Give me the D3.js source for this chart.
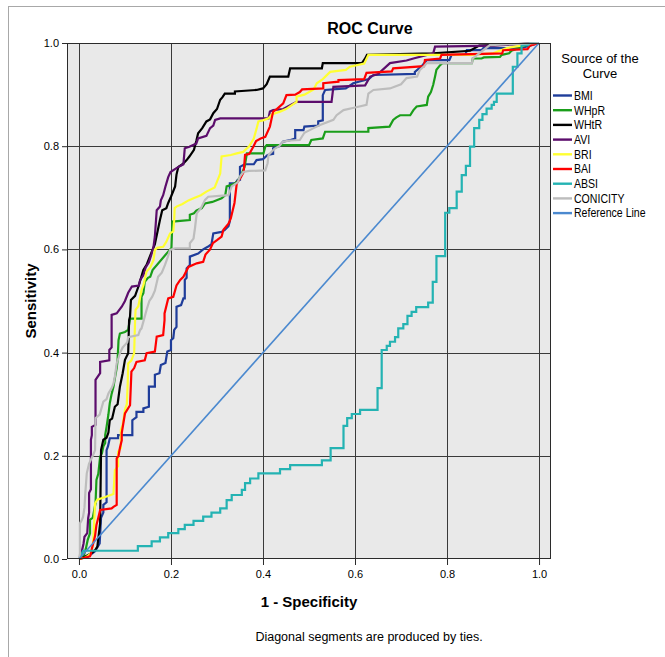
<!DOCTYPE html>
<html>
<head>
<meta charset="utf-8">
<script src="https://cdn.jsdelivr.net/npm/d3@7"></script>
<style>
  body { margin: 0; background: #fff; }
  text { font-family: "Liberation Sans", Arial, sans-serif; fill: #000; }
</style>
</head>
<body>
<svg width="665" height="657"></svg>
<script>
// series names as in the legend
var seriesNames = ["BMI", "WHpR", "WHtR", "AVI", "BRI", "BAI", "ABSI", "CONICITY"];

// ROC points [1 - specificity, sensitivity]
var bmi = [[0,0],[0.02,0.005],[0.035,0.015],[0.045,0.03],[0.048,0.08],[0.053,0.09],[0.053,0.105],[0.06,0.11],[0.06,0.211],[0.063,0.218],[0.067,0.234],[0.085,0.234],[0.085,0.24],[0.116,0.24],[0.116,0.269],[0.125,0.275],[0.125,0.285],[0.14,0.285],[0.14,0.292],[0.152,0.295],[0.152,0.334],[0.165,0.334],[0.165,0.357],[0.175,0.36],[0.178,0.376],[0.188,0.38],[0.192,0.402],[0.2,0.405],[0.2,0.424],[0.205,0.428],[0.207,0.444],[0.212,0.45],[0.212,0.489],[0.222,0.492],[0.227,0.505],[0.23,0.505],[0.23,0.541],[0.234,0.545],[0.234,0.563],[0.241,0.57],[0.241,0.586],[0.259,0.592],[0.27,0.6],[0.28,0.605],[0.288,0.61],[0.292,0.631],[0.31,0.634],[0.317,0.638],[0.325,0.645],[0.328,0.655],[0.328,0.728],[0.34,0.728],[0.345,0.735],[0.35,0.735],[0.35,0.76],[0.36,0.765],[0.38,0.765],[0.386,0.773],[0.4,0.775],[0.41,0.783],[0.422,0.785],[0.422,0.796],[0.435,0.8],[0.444,0.809],[0.46,0.812],[0.47,0.815],[0.47,0.831],[0.488,0.831],[0.49,0.838],[0.52,0.84],[0.52,0.848],[0.53,0.85],[0.53,0.899],[0.535,0.909],[0.58,0.912],[0.596,0.922],[0.63,0.93],[0.64,0.938],[0.73,0.94],[0.73,0.944],[0.745,0.955],[0.756,0.967],[0.805,0.967],[0.81,0.977],[0.84,0.977],[0.843,0.986],[0.875,0.986],[0.879,0.99],[0.96,0.99],[0.98,0.995],[1,1]];

var whpr = [[0,0],[0.01,0.005],[0.015,0.02],[0.019,0.037],[0.024,0.05],[0.024,0.076],[0.03,0.08],[0.036,0.108],[0.038,0.153],[0.042,0.165],[0.046,0.198],[0.05,0.205],[0.053,0.218],[0.057,0.225],[0.057,0.24],[0.06,0.256],[0.064,0.28],[0.067,0.302],[0.071,0.32],[0.075,0.334],[0.078,0.35],[0.082,0.37],[0.084,0.386],[0.086,0.424],[0.089,0.437],[0.1,0.44],[0.107,0.444],[0.111,0.466],[0.136,0.466],[0.136,0.508],[0.14,0.515],[0.143,0.537],[0.15,0.545],[0.155,0.547],[0.16,0.56],[0.201,0.603],[0.203,0.654],[0.241,0.657],[0.241,0.667],[0.25,0.67],[0.255,0.675],[0.267,0.68],[0.274,0.689],[0.29,0.692],[0.31,0.699],[0.318,0.705],[0.321,0.722],[0.335,0.726],[0.345,0.732],[0.354,0.747],[0.36,0.76],[0.365,0.786],[0.401,0.786],[0.405,0.799],[0.408,0.802],[0.5,0.802],[0.505,0.812],[0.53,0.815],[0.535,0.828],[0.629,0.828],[0.629,0.835],[0.675,0.838],[0.683,0.851],[0.69,0.856],[0.698,0.86],[0.72,0.86],[0.727,0.87],[0.734,0.877],[0.756,0.88],[0.759,0.896],[0.765,0.905],[0.77,0.919],[0.774,0.935],[0.777,0.948],[0.785,0.957],[0.79,0.961],[0.854,0.961],[0.856,0.97],[0.875,0.97],[0.88,0.972],[0.915,0.973],[0.919,0.977],[0.935,0.98],[0.94,0.985],[0.955,0.99],[0.966,0.995],[1,1]];

var whtr = [[0,0],[0.01,0.003],[0.025,0.01],[0.035,0.017],[0.04,0.024],[0.046,0.069],[0.048,0.211],[0.053,0.231],[0.06,0.235],[0.064,0.245],[0.067,0.269],[0.072,0.272],[0.078,0.295],[0.084,0.3],[0.089,0.334],[0.095,0.36],[0.1,0.386],[0.107,0.399],[0.109,0.463],[0.111,0.47],[0.113,0.502],[0.122,0.51],[0.13,0.53],[0.14,0.56],[0.147,0.57],[0.154,0.586],[0.165,0.61],[0.176,0.657],[0.181,0.676],[0.19,0.68],[0.194,0.69],[0.2,0.702],[0.209,0.722],[0.212,0.745],[0.216,0.76],[0.225,0.765],[0.234,0.773],[0.24,0.78],[0.25,0.793],[0.255,0.81],[0.259,0.825],[0.268,0.835],[0.277,0.848],[0.285,0.852],[0.292,0.864],[0.3,0.872],[0.307,0.89],[0.312,0.895],[0.317,0.902],[0.339,0.902],[0.339,0.906],[0.386,0.909],[0.4,0.912],[0.408,0.92],[0.415,0.935],[0.455,0.935],[0.459,0.951],[0.528,0.951],[0.53,0.961],[0.615,0.961],[0.622,0.97],[0.626,0.977],[0.77,0.98],[0.85,0.985],[0.87,0.995],[0.93,0.997],[1,1]];

var avi = [[0,0],[0.005,0.01],[0.01,0.03],[0.012,0.043],[0.018,0.05],[0.02,0.079],[0.022,0.09],[0.022,0.128],[0.026,0.135],[0.026,0.231],[0.028,0.24],[0.028,0.256],[0.036,0.26],[0.036,0.347],[0.046,0.36],[0.046,0.382],[0.066,0.385],[0.066,0.405],[0.071,0.41],[0.071,0.473],[0.082,0.476],[0.093,0.489],[0.1,0.5],[0.107,0.516],[0.115,0.528],[0.13,0.53],[0.133,0.541],[0.14,0.55],[0.145,0.565],[0.152,0.575],[0.157,0.589],[0.162,0.605],[0.165,0.625],[0.169,0.676],[0.176,0.683],[0.178,0.695],[0.183,0.705],[0.188,0.722],[0.194,0.74],[0.199,0.75],[0.211,0.757],[0.227,0.765],[0.23,0.796],[0.24,0.799],[0.247,0.802],[0.255,0.805],[0.259,0.815],[0.277,0.82],[0.285,0.835],[0.292,0.84],[0.296,0.851],[0.307,0.854],[0.412,0.854],[0.415,0.867],[0.422,0.87],[0.444,0.872],[0.46,0.88],[0.473,0.886],[0.549,0.886],[0.553,0.915],[0.622,0.918],[0.633,0.935],[0.65,0.94],[0.676,0.961],[0.712,0.966],[0.727,0.97],[0.77,0.98],[0.774,0.993],[0.9,0.995],[1,1]];

var bri = [[0,0],[0.015,0.003],[0.025,0.01],[0.03,0.025],[0.032,0.05],[0.035,0.108],[0.04,0.115],[0.057,0.12],[0.075,0.126],[0.078,0.172],[0.085,0.18],[0.085,0.208],[0.091,0.215],[0.091,0.25],[0.095,0.26],[0.1,0.289],[0.104,0.3],[0.106,0.34],[0.107,0.379],[0.114,0.385],[0.12,0.399],[0.122,0.463],[0.123,0.483],[0.129,0.49],[0.136,0.521],[0.14,0.53],[0.147,0.557],[0.155,0.565],[0.162,0.579],[0.165,0.599],[0.17,0.603],[0.183,0.605],[0.19,0.615],[0.198,0.631],[0.205,0.635],[0.207,0.657],[0.208,0.68],[0.212,0.683],[0.225,0.688],[0.238,0.695],[0.249,0.699],[0.265,0.705],[0.277,0.712],[0.295,0.72],[0.307,0.747],[0.31,0.78],[0.33,0.783],[0.343,0.786],[0.357,0.789],[0.37,0.8],[0.38,0.815],[0.386,0.834],[0.39,0.848],[0.4,0.85],[0.412,0.854],[0.42,0.862],[0.437,0.867],[0.45,0.872],[0.473,0.886],[0.473,0.896],[0.49,0.9],[0.51,0.91],[0.517,0.922],[0.53,0.93],[0.546,0.944],[0.58,0.948],[0.589,0.954],[0.62,0.96],[0.629,0.977],[0.85,0.977],[0.9,0.98],[0.93,0.99],[0.96,0.995],[1,1]];

var bai = [[0,0],[0.01,0.002],[0.024,0.005],[0.026,0.01],[0.028,0.02],[0.031,0.03],[0.035,0.045],[0.038,0.066],[0.042,0.08],[0.046,0.095],[0.071,0.098],[0.075,0.101],[0.082,0.105],[0.082,0.195],[0.086,0.2],[0.089,0.215],[0.093,0.23],[0.093,0.244],[0.1,0.282],[0.111,0.298],[0.114,0.363],[0.12,0.37],[0.125,0.382],[0.143,0.385],[0.147,0.399],[0.165,0.402],[0.169,0.431],[0.183,0.434],[0.186,0.463],[0.186,0.476],[0.194,0.505],[0.205,0.508],[0.212,0.53],[0.22,0.541],[0.227,0.547],[0.238,0.566],[0.256,0.573],[0.27,0.576],[0.275,0.59],[0.285,0.6],[0.291,0.612],[0.3,0.618],[0.31,0.625],[0.314,0.638],[0.325,0.65],[0.33,0.66],[0.338,0.69],[0.343,0.728],[0.352,0.74],[0.358,0.75],[0.361,0.783],[0.37,0.785],[0.379,0.799],[0.385,0.81],[0.395,0.815],[0.405,0.818],[0.415,0.838],[0.422,0.867],[0.43,0.872],[0.444,0.883],[0.451,0.899],[0.47,0.9],[0.48,0.905],[0.485,0.91],[0.531,0.912],[0.531,0.922],[0.564,0.925],[0.564,0.928],[0.62,0.93],[0.625,0.942],[0.68,0.945],[0.683,0.951],[0.75,0.955],[0.752,0.967],[0.785,0.97],[0.788,0.977],[0.92,0.98],[0.922,0.986],[0.975,0.988],[0.98,0.995],[1,1]];

var absi = [[0,0],[0.005,0.008],[0.009,0.016],[0.128,0.016],[0.128,0.025],[0.158,0.025],[0.158,0.034],[0.176,0.034],[0.176,0.042],[0.194,0.042],[0.194,0.05],[0.216,0.05],[0.216,0.058],[0.23,0.058],[0.23,0.066],[0.249,0.066],[0.249,0.074],[0.27,0.074],[0.27,0.082],[0.288,0.082],[0.288,0.09],[0.307,0.09],[0.307,0.098],[0.321,0.098],[0.321,0.114],[0.332,0.114],[0.332,0.124],[0.354,0.124],[0.354,0.134],[0.361,0.134],[0.361,0.147],[0.372,0.147],[0.372,0.156],[0.39,0.156],[0.39,0.166],[0.437,0.166],[0.437,0.174],[0.459,0.174],[0.459,0.182],[0.528,0.182],[0.528,0.191],[0.547,0.191],[0.547,0.215],[0.575,0.215],[0.575,0.258],[0.583,0.258],[0.583,0.273],[0.593,0.273],[0.593,0.281],[0.611,0.281],[0.611,0.289],[0.649,0.289],[0.649,0.331],[0.658,0.331],[0.658,0.405],[0.669,0.405],[0.669,0.413],[0.676,0.413],[0.676,0.421],[0.687,0.421],[0.687,0.43],[0.694,0.43],[0.694,0.447],[0.705,0.447],[0.705,0.455],[0.714,0.455],[0.714,0.471],[0.723,0.471],[0.723,0.479],[0.733,0.479],[0.733,0.488],[0.759,0.488],[0.759,0.497],[0.769,0.497],[0.769,0.537],[0.777,0.537],[0.777,0.587],[0.796,0.587],[0.796,0.671],[0.805,0.671],[0.805,0.68],[0.821,0.68],[0.821,0.712],[0.832,0.712],[0.832,0.744],[0.841,0.744],[0.841,0.762],[0.85,0.762],[0.85,0.799],[0.859,0.799],[0.859,0.835],[0.87,0.835],[0.87,0.851],[0.877,0.851],[0.877,0.862],[0.886,0.862],[0.886,0.873],[0.897,0.873],[0.897,0.88],[0.902,0.88],[0.902,0.886],[0.908,0.886],[0.908,0.902],[0.943,0.902],[0.943,0.954],[0.953,0.954],[0.953,0.98],[0.962,0.98],[0.962,0.996],[0.977,0.996],[0.98,1],[1,1]];

var conicity = [[0,0],[0.002,0.01],[0.002,0.069],[0.006,0.075],[0.009,0.082],[0.012,0.1],[0.014,0.13],[0.017,0.166],[0.022,0.185],[0.031,0.202],[0.035,0.211],[0.036,0.273],[0.045,0.28],[0.053,0.305],[0.06,0.31],[0.064,0.321],[0.071,0.331],[0.075,0.34],[0.078,0.353],[0.082,0.379],[0.086,0.39],[0.089,0.399],[0.095,0.41],[0.1,0.415],[0.105,0.42],[0.107,0.43],[0.129,0.434],[0.133,0.444],[0.136,0.447],[0.14,0.46],[0.147,0.483],[0.153,0.5],[0.159,0.508],[0.165,0.52],[0.172,0.547],[0.18,0.555],[0.187,0.57],[0.193,0.585],[0.198,0.599],[0.209,0.602],[0.241,0.602],[0.241,0.612],[0.249,0.621],[0.252,0.64],[0.256,0.67],[0.265,0.68],[0.274,0.696],[0.281,0.702],[0.325,0.705],[0.332,0.722],[0.345,0.73],[0.35,0.741],[0.357,0.75],[0.37,0.752],[0.405,0.753],[0.41,0.767],[0.412,0.783],[0.425,0.795],[0.435,0.8],[0.444,0.809],[0.46,0.811],[0.48,0.812],[0.49,0.826],[0.51,0.835],[0.524,0.841],[0.553,0.851],[0.56,0.86],[0.575,0.87],[0.6,0.875],[0.625,0.88],[0.629,0.902],[0.64,0.909],[0.676,0.912],[0.7,0.92],[0.712,0.932],[0.735,0.935],[0.741,0.948],[0.75,0.955],[0.756,0.961],[0.854,0.961],[0.856,0.97],[0.87,0.98],[0.893,0.996],[1,1]];

var referenceLine = [[0,0],[1,1]];

var xTicks = [0, 0.2, 0.4, 0.6, 0.8, 1.0];
var yTicks = [0, 0.2, 0.4, 0.6, 0.8, 1.0];

var seriesData = [bmi, whpr, whtr, avi, bri, bai, absi, conicity];

var svg = d3.select("svg");

var color = d3.scaleOrdinal()
  .domain(seriesNames.concat(["Reference Line"]))
  .range(["#1f3d9a", "#1a9e1a", "#000000", "#5c0d6c", "#ffff33", "#ff0000", "#24b3b3", "#bdbdbd", "#4b89cf"]);

// plot box (window.top is taken, so no bare "top")
var plotL = 67, plotR = 551, plotT = 43, plotB = 559;

var x = d3.scaleLinear().domain([-0.026, 1.026]).range([plotL, plotR]);
var y = d3.scaleLinear().domain([0, 1]).range([plotB, plotT]);

// outer frame
svg.append("rect")
  .attr("x", 8.5).attr("y", 6.5)
  .attr("width", 700).attr("height", 700)
  .attr("fill", "none")
  .attr("stroke", "#a8a8a8");

svg.append("rect")
  .attr("x", plotL).attr("y", plotT)
  .attr("width", plotR - plotL).attr("height", plotB - plotT)
  .attr("fill", "#e9e9e9");

// grid
svg.append("g").selectAll("line")
  .data(xTicks)
  .enter().append("line")
  .attr("x1", function(d) { return Math.round(x(d)) + 0.5; })
  .attr("x2", function(d) { return Math.round(x(d)) + 0.5; })
  .attr("y1", plotT).attr("y2", plotB)
  .attr("stroke", "#3a3a3a");

svg.append("g").selectAll("line")
  .data(yTicks.slice(1, -1))
  .enter().append("line")
  .attr("y1", function(d) { return Math.round(y(d)) + 0.5; })
  .attr("y2", function(d) { return Math.round(y(d)) + 0.5; })
  .attr("x1", plotL).attr("x2", plotR)
  .attr("stroke", "#3a3a3a");

// curves
var line = d3.line()
  .x(function(d) { return x(d[0]); })
  .y(function(d) { return y(d[1]); });

svg.append("g").selectAll("path")
  .data(seriesData)
  .enter().append("path")
  .attr("d", line)
  .attr("fill", "none")
  .attr("stroke", function(d, i) { return color(seriesNames[i]); })
  .attr("stroke-width", 2.2)
  .attr("stroke-linejoin", "miter");

svg.append("path")
  .datum(referenceLine)
  .attr("d", line)
  .attr("fill", "none")
  .attr("stroke", color("Reference Line"))
  .attr("stroke-width", 1.6);

// plot border
svg.append("rect")
  .attr("x", plotL + 0.5).attr("y", plotT + 0.5)
  .attr("width", plotR - plotL - 1).attr("height", plotB - plotT - 1)
  .attr("fill", "none")
  .attr("stroke", "#2b2b2b");

// axes
var yAxis = svg.append("g")
  .attr("transform", "translate(" + plotL + ",0)")
  .call(d3.axisLeft(y).tickValues(yTicks).tickFormat(d3.format(".1f")).tickSize(5).tickPadding(3));

var xAxis = svg.append("g")
  .attr("transform", "translate(0," + plotB + ")")
  .call(d3.axisBottom(x).tickValues(xTicks).tickFormat(d3.format(".1f")).tickSize(6).tickPadding(5));

[yAxis, xAxis].forEach(function(a) {
  a.select(".domain").remove();
  a.selectAll("line").attr("stroke", "#2b2b2b");
  a.selectAll("text").style("font-family", "Liberation Sans, Arial, sans-serif").style("font-size", "11px").attr("fill", "#000");
});

// titles
svg.append("text")
  .attr("x", 370).attr("y", 34)
  .attr("text-anchor", "middle")
  .style("font-size", "16px").style("font-weight", "bold")
  .text("ROC Curve");

svg.append("text")
  .attr("x", (plotL + plotR) / 2).attr("y", 607)
  .attr("text-anchor", "middle")
  .style("font-size", "15px").style("font-weight", "bold")
  .text("1 - Specificity");

svg.append("text")
  .attr("transform", "translate(36," + ((plotT + plotB) / 2) + ") rotate(-90)")
  .attr("text-anchor", "middle")
  .style("font-size", "15px").style("font-weight", "bold")
  .text("Sensitivity");

svg.append("text")
  .attr("x", 369).attr("y", 641)
  .attr("text-anchor", "middle")
  .style("font-size", "12.5px")
  .text("Diagonal segments are produced by ties.");

// legend
var legend = svg.append("g");

legend.append("text")
  .attr("x", 600).attr("y", 63)
  .attr("text-anchor", "middle")
  .style("font-size", "13px")
  .text("Source of the");

legend.append("text")
  .attr("x", 600).attr("y", 78)
  .attr("text-anchor", "middle")
  .style("font-size", "13px")
  .text("Curve");

var item = legend.selectAll(".item")
  .data(color.domain())
  .enter().append("g")
  .attr("class", "item")
  .attr("transform", function(d, i) { return "translate(553," + (95.5 + i * 14.7) + ")"; });

item.append("line")
  .attr("x1", 0).attr("x2", 19)
  .attr("stroke", function(d) { return color(d); })
  .attr("stroke-width", 2.4);

item.append("text")
  .attr("transform", "translate(21,4.3) scale(0.88,1)")
  .style("font-size", "12px")
  .text(function(d) { return d; });
</script>
</body>
</html>
